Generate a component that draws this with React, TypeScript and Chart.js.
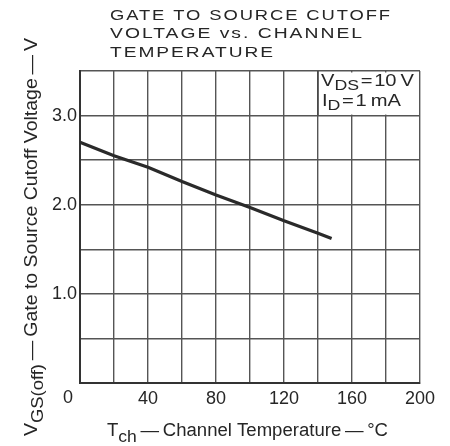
import React, { useEffect, useRef } from "react";
import { Chart, registerables } from "chart.js";

Chart.register(...registerables);

const temps = [0, 20, 40, 60, 80, 100, 120, 140, 148];
const vgsOff = [2.7, 2.55, 2.42, 2.26, 2.11, 1.97, 1.82, 1.68, 1.62];
const xLabelValues = [40, 80, 120, 160, 200];
const yLabelValues = [1, 2, 3];
const titleLines = ["GATE TO SOURCE CUTOFF", "VOLTAGE vs. CHANNEL", "TEMPERATURE"];

type Part = { t: string; sub?: boolean };
const FONT = "'Liberation Sans', Arial, sans-serif";
const INK = "#262626";

function setLS(ctx: CanvasRenderingContext2D, ls: number) {
  (ctx as any).letterSpacing = `${ls}px`;
}
function richWidth(ctx: CanvasRenderingContext2D, parts: Part[], size: number, subSize: number, ls: number) {
  let w = 0;
  setLS(ctx, ls);
  for (const p of parts) {
    ctx.font = `${p.sub ? subSize : size}px ${FONT}`;
    w += ctx.measureText(p.t).width;
  }
  setLS(ctx, 0);
  return w - ls;
}
// Draws mixed normal/subscript text, stretched horizontally to the target width when given.
function drawRich(
  ctx: CanvasRenderingContext2D,
  parts: Part[],
  x: number,
  y: number,
  size: number,
  subSize: number,
  subShift: number,
  ls: number,
  target?: number
) {
  const w = richWidth(ctx, parts, size, subSize, ls);
  const sx = target ? target / w : 1;
  ctx.save();
  ctx.translate(x, y);
  ctx.scale(sx, 1);
  setLS(ctx, ls);
  let cx = 0;
  for (const p of parts) {
    ctx.font = `${p.sub ? subSize : size}px ${FONT}`;
    ctx.fillText(p.t, cx, p.sub ? subShift : 0);
    cx += ctx.measureText(p.t).width;
  }
  setLS(ctx, 0);
  ctx.restore();
}

const decor = {
  id: "decor",
  beforeDraw(chart: any) {
    const ctx = chart.ctx as CanvasRenderingContext2D;
    ctx.save();
    ctx.fillStyle = "#fff";
    ctx.fillRect(0, 0, chart.width, chart.height);
    ctx.restore();
  },
  afterDraw(chart: any) {
    const ctx = chart.ctx as CanvasRenderingContext2D;
    const xs = chart.scales.x;
    const ys = chart.scales.y;
    ctx.save();
    ctx.fillStyle = INK;
    ctx.textBaseline = "alphabetic";
    // title
    const tb = [19.5, 38, 56.5];
    const tw = [280, 252, 163];
    titleLines.forEach((l, i) => drawRich(ctx, [{ t: l }], 110, tb[i], 15.5, 12, 0, 1.6, tw[i]));

    // legend box
    const bx0 = xs.getPixelForValue(140);
    const bx1 = xs.getPixelForValue(200);
    const by0 = ys.getPixelForValue(3.5);
    const by1 = ys.getPixelForValue(3.0);
    ctx.fillStyle = "#fff";
    ctx.fillRect(bx0 + 1, by0 + 1.5, bx1 - bx0 - 2.5, by1 - by0 - 2.5);
    ctx.strokeStyle = "#444";
    ctx.lineWidth = 1.4;
    ctx.beginPath();
    ctx.moveTo(bx0, by1);
    ctx.lineTo(bx0, by0);
    ctx.stroke();
    ctx.fillStyle = INK;
    drawRich(ctx, [{ t: "V" }, { t: "DS", sub: true }, { t: "\u200a=\u200a10\u2009V" }], bx0 + 3, by0 + 15, 17, 15, 4, 0, 93);
    drawRich(ctx, [{ t: "I" }, { t: "D", sub: true }, { t: "\u200a=\u200a1\u2009mA" }], bx0 + 4, by0 + 35, 17, 15, 4, 0, 79);

    // "0" corner label
    ctx.font = `18px ${FONT}`;
    ctx.textAlign = "center";
    ctx.fillText("0", xs.getPixelForValue(0) - 12, ys.getPixelForValue(0) + 20);
    ctx.textAlign = "left";

    // x title
    const xt: Part[] = [{ t: "T" }, { t: "ch", sub: true }, { t: "\u2009\u2014\u2009Channel Temperature\u2009\u2014\u2009\u00b0C" }];
    drawRich(ctx, xt, 107, 436, 18, 17, 6, 0, 281);

    // y title
    const yt: Part[] = [{ t: "V" }, { t: "GS(off)", sub: true }, { t: "\u2009\u2014\u2009Gate to Source Cutoff Voltage\u2009\u2014\u2009V" }];
    ctx.translate(37, 436);
    ctx.rotate(-Math.PI / 2);
    drawRich(ctx, yt, 0, 0, 18, 17, 6, 0, 398);
    ctx.restore();
  },
};

export default function App() {
  const ref = useRef<HTMLCanvasElement>(null);
  useEffect(() => {
    if (!ref.current) return;
    const chart = new Chart(ref.current, {
      type: "line",
      data: {
        datasets: [
          {
            data: temps.map((t, i) => ({ x: t, y: vgsOff[i] })),
            borderColor: "#2a2a2a",
            borderWidth: 3.2,
            pointRadius: 0,
            tension: 0,
          },
        ],
      },
      options: {
        animation: false,
        responsive: false,
        devicePixelRatio: 1,
        events: [],
        layout: { padding: { top: 71, right: 30, left: 0, bottom: 0 } },
        plugins: { legend: { display: false }, tooltip: { enabled: false }, title: { display: false } },
        scales: {
          x: {
            type: "linear",
            min: 0,
            max: 200,
            afterFit: (s: any) => {
              s.height = 63;
            },
            ticks: {
              stepSize: 20,
              autoSkip: false,
              maxRotation: 0,
              padding: 5,
              color: INK,
              font: { family: FONT, size: 18 },
              callback: (v: any) => (xLabelValues.includes(Number(v)) ? String(v) : ""),
            },
            grid: { color: "#555", lineWidth: 1.4, drawTicks: false },
            border: { color: "#333", width: 2 },
          },
          y: {
            type: "linear",
            min: 0,
            max: 3.5,
            afterFit: (s: any) => {
              s.width = 80;
            },
            ticks: {
              stepSize: 0.5,
              autoSkip: false,
              padding: 3,
              color: INK,
              font: { family: FONT, size: 18 },
              callback: (v: any) => (yLabelValues.includes(Number(v)) ? Number(v).toFixed(1) : ""),
            },
            grid: { color: "#555", lineWidth: 1.4, drawTicks: false },
            border: { color: "#333", width: 2 },
          },
        },
      },
      plugins: [decor],
    });
    return () => chart.destroy();
  }, []);
  return (
    <div style={{ position: "absolute", left: 0, top: 0, width: 450, height: 446 }}>
      <canvas ref={ref} width={450} height={446} style={{ width: 450, height: 446 }} />
    </div>
  );
}
